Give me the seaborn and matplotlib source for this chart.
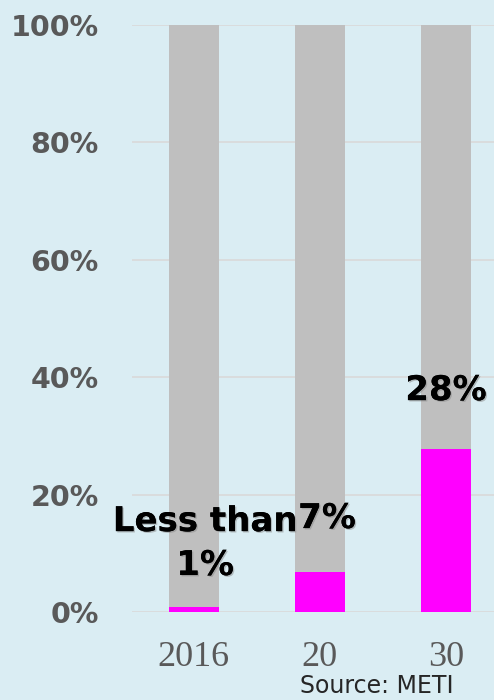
import matplotlib
matplotlib.use("Agg")
import matplotlib.pyplot as plt
import matplotlib.patheffects as pe
import seaborn as sns
import pandas as pd

years = ["2016", "20", "30"]
share = [0.9, 6.8, 27.8]
total = [100, 100, 100]
labels = ["Less than\n1%", "7%", "28%"]
yticks = [0, 20, 40, 60, 80, 100]
ytick_labels = ["0%", "20%", "40%", "60%", "80%", "100%"]

bg = "#daedf3"
sns.set_theme(style="white")
plt.rcParams["font.family"] = ["DejaVu Sans"]

fig = plt.figure(figsize=(4.94, 7.0), dpi=100, facecolor=bg)
ax = fig.add_axes([132/494, 1-612/700, 1-132/494, 587/700])
ax.set_facecolor(bg)

df = pd.DataFrame({"year": years, "share": share, "total": total})
sns.barplot(data=df, x="year", y="total", color="#bfbfbf", width=0.4,
            saturation=1, ax=ax, zorder=2, linewidth=0)
sns.barplot(data=df, x="year", y="share", color="#ff00ff", width=0.4,
            saturation=1, ax=ax, zorder=3, linewidth=0)

ax.set_xlim(-0.49, 2.38)
ax.set_ylim(0, 100)
ax.set_yticks(yticks)
ax.set_yticklabels(ytick_labels, fontsize=20.5, fontweight="bold", color="#595959")
ax.tick_params(axis="y", length=0, pad=24)
ax.tick_params(axis="x", length=0, pad=21)
for t in ax.get_xticklabels():
    t.set_fontfamily("Liberation Serif")
    t.set_fontsize(26)
    t.set_color("#595959")
ax.set_xlabel("")
ax.set_ylabel("")
ax.grid(axis="y", color="#d9d9d9", linewidth=1.2, zorder=0)
for s in ax.spines.values():
    s.set_visible(False)

shadow = [pe.withSimplePatchShadow(offset=(1, -1), shadow_rgbFace="#888888", alpha=0.5), pe.Normal()]
pos = [(0.09, 6.3), (1.056, 14.3), (2.0, 36.1)]
for (x, y), lab in zip(pos, labels):
    ax.text(x, y, lab, ha="center", va="baseline", fontsize=24.5, fontweight="bold",
            color="black", zorder=5, linespacing=1.42, path_effects=shadow)

fig.text(300/494, 1-693/700, "Source: METI", fontsize=17, color="#262626",
         ha="left", va="baseline")

fig.savefig("out.png", dpi=100, facecolor=bg)
